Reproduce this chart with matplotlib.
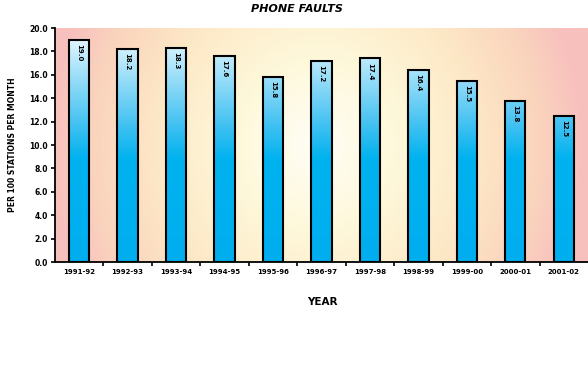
import numpy as np
import matplotlib
matplotlib.use("Agg")
import matplotlib.pyplot as plt
from matplotlib.colors import LinearSegmentedColormap

years = ["1991-92", "1992-93", "1993-94", "1994-95", "1995-96", "1996-97",
         "1997-98", "1998-99", "1999-00", "2000-01", "2001-02"]
faults = [19.0, 18.2, 18.3, 17.6, 15.8, 17.2, 17.4, 16.4, 15.5, 13.8, 12.5]
value_labels = ["19.0", "18.2", "18.3", "17.6", "15.8", "17.2", "17.4", "16.4", "15.5", "13.8", "12.5"]
yticks = [0, 2, 4, 6, 8, 10, 12, 14, 16, 18, 20]

fig = plt.figure(figsize=(5.88, 3.76), dpi=100)
ax = fig.add_axes([0.0935, 0.303, 0.9065, 0.6225])

n = len(years)
ax.set_xlim(-0.5, n - 0.5)
ax.set_ylim(0, 20)

# background radial gradient
gx = np.linspace(-1, 1, 300)
gy = np.linspace(-1, 1, 200)
X, Y = np.meshgrid(gx, gy)
R = np.sqrt((X + 0.02) ** 2 + (Y * 0.4) ** 2)
R = np.clip(R, 0, 1)
bg_cmap = LinearSegmentedColormap.from_list(
    "bg", [(0.0, "#fffef6"), (0.3, "#fef8da"), (0.6, "#fde8c6"),
           (0.85, "#fad3bd"), (1.0, "#f8c0bd")])
ax.imshow(R, cmap=bg_cmap, extent=(-0.5, n - 0.5, 0, 20), aspect="auto",
          origin="lower", zorder=0, vmin=0, vmax=1)

# bars with vertical gradient
bar_cmap = LinearSegmentedColormap.from_list(
    "bar", [(0.0, "#00aeef"), (0.44, "#00b2ef"), (0.6, "#48c3f2"), (1.0, "#f6fcff")])
width = 0.42
grad = np.linspace(0, 1, 256).reshape(-1, 1)
bars = ax.bar(range(n), faults, width=width, facecolor="none",
              edgecolor="black", linewidth=1.5, zorder=3)
for i, (b, v) in enumerate(zip(bars, faults)):
    x0 = b.get_x()
    img = ax.imshow(grad, cmap=bar_cmap, extent=(x0, x0 + width, 0, 20), aspect="auto",
                    origin="lower", zorder=2, vmin=0, vmax=1)
    img.set_clip_path(b)
    ax.text(i, v - 0.35, value_labels[i], rotation=270, ha="center", va="top",
            fontsize=5, fontweight="bold", color="black", zorder=4)

ax.set_xlim(-0.5, n - 0.5)
ax.set_ylim(0, 20)

ax.set_yticks(yticks)
ax.set_yticklabels([f"{t:.1f}" for t in yticks], fontsize=5.5, fontweight="bold")
ax.tick_params(axis="y", direction="out", length=3, width=1.2, pad=2)

ax.set_xticks(range(n))
ax.set_xticklabels(years, fontsize=5, fontweight="bold")
ax.tick_params(axis="x", which="major", length=0, pad=5)
ax.set_xticks(np.arange(0.5, n - 1, 1.0), minor=True)
ax.tick_params(axis="x", which="minor", direction="out", length=3, width=1.2)

for s in ["top", "right"]:
    ax.spines[s].set_visible(False)
for s in ["left", "bottom"]:
    ax.spines[s].set_linewidth(1.3)
    ax.spines[s].set_zorder(5)

fig.text(0.505, 0.975, "PHONE FAULTS", ha="center", va="center",
         fontsize=8, fontweight="bold", style="italic")
fig.text(0.548, 0.197, "YEAR", ha="center", va="center",
         fontsize=7.5, fontweight="bold")
fig.text(0.022, 0.615, "PER 100 STATIONS PER MONTH", ha="center", va="center",
         rotation=90, fontsize=5.5, fontweight="bold")

fig.savefig("out.png", dpi=100)
